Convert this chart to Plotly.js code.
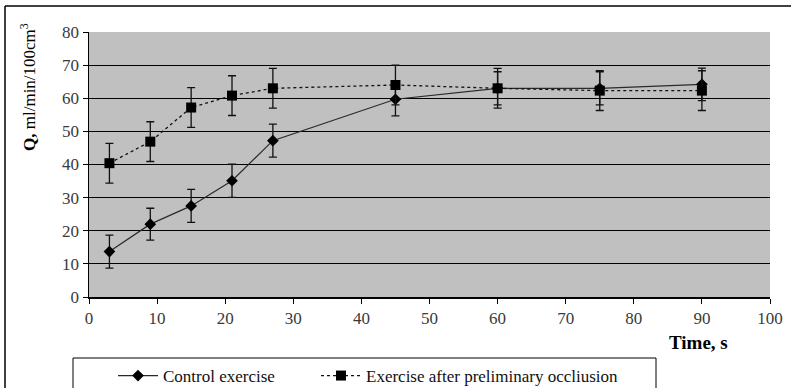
<!DOCTYPE html>
<html>
<head>
<meta charset="utf-8">
<script src="https://cdn.plot.ly/plotly-3.0.1.min.js"></script>
<style>html,body{margin:0;padding:0;background:#fff;}#chart{width:791px;height:388px;}</style>
</head>
<body>
<div id="chart"></div>
<script>
// Data
var timeS = [3, 9, 15, 21, 27, 45, 60, 75, 90];
var controlQ = [13.7, 22.0, 27.5, 35.1, 47.2, 59.7, 63.0, 63.0, 64.2];
var controlErr = [5.0, 4.8, 5.0, 5.0, 5.0, 5.0, 5.0, 5.0, 4.9];
var occlusionQ = [40.4, 46.9, 57.2, 60.8, 63.0, 64.0, 63.0, 62.3, 62.3];
var occlusionErr = [6.0, 6.0, 6.0, 6.0, 6.0, 6.0, 6.0, 6.0, 6.0];
var seriesNames = ["Control exercise", "Exercise after preliminary occliusion"];
var xTicks = [0, 10, 20, 30, 40, 50, 60, 70, 80, 90, 100];
var yTicks = [0, 10, 20, 30, 40, 50, 60, 70, 80];
var yGrid = [10, 20, 30, 40, 50, 60, 70];

var W = 791, H = 388;
var L = 89, R = 21, T = 32, B = 91;
var pw = W - L - R, ph = H - T - B;
function px(x) { return (x - L) / pw; }
function py(y) { return (H - B - y) / ph; }

var FONT = "Liberation Serif";

var traces = [
  {
    x: timeS, y: controlQ, name: seriesNames[0], type: "scatter", mode: "lines+markers", legend: "legend",
    line: {color: "#2a2a2a", width: 1.2},
    marker: {symbol: "diamond", size: 9, color: "#000"},
    error_y: {type: "data", array: controlErr, visible: true, color: "#111", thickness: 1.3, width: 4}
  },
  {
    x: timeS, y: occlusionQ, name: seriesNames[1], type: "scatter", mode: "lines+markers", legend: "legend2",
    line: {color: "#111", width: 1.3, dash: "dot"},
    marker: {symbol: "square", size: 10, color: "#000"},
    error_y: {type: "data", array: occlusionErr, visible: true, color: "#111", thickness: 1.3, width: 4}
  },
  {x: [null], y: [null], yaxis: "y2", showlegend: false, hoverinfo: "skip", type: "scatter", mode: "lines"}
];

function legendAt(xpx) {
  return {
    orientation: "h", xref: "container", yref: "container",
    x: xpx / W, y: 1 - 358 / H, xanchor: "left", yanchor: "top",
    bgcolor: "rgba(0,0,0,0)", borderwidth: 0,
    font: {family: FONT, size: 17, color: "#111"}, itemwidth: 40
  };
}

var layout = {
  width: W, height: H,
  margin: {l: L, r: R, t: T, b: B, pad: 0, autoexpand: false},
  paper_bgcolor: "#fff",
  plot_bgcolor: "#c0c0c0",
  font: {family: FONT, size: 17, color: "#333"},
  showlegend: true,
  xaxis: {
    range: [0, 100], tickvals: xTicks, ticktext: xTicks.map(String),
    showgrid: false, zeroline: false, showline: true, linecolor: "#000", linewidth: 1.5,
    ticks: "outside", ticklen: 5, tickcolor: "#000", tickwidth: 1,
    tickfont: {family: FONT, size: 17, color: "#3a3a3a"}
  },
  yaxis: {
    range: [0, 80], tickvals: yTicks, ticktext: yTicks.map(String),
    showgrid: false, zeroline: false, showline: true, linecolor: "#000", linewidth: 1.5,
    ticks: "outside", ticklen: 5, tickcolor: "#000", tickwidth: 1,
    tickfont: {family: FONT, size: 17, color: "#3a3a3a"}
  },
  yaxis2: {
    overlaying: "y", range: [0, 80], tickvals: yGrid, showticklabels: false,
    showgrid: true, gridcolor: "#000", gridwidth: 1.2, zeroline: false, showline: false, ticks: ""
  },
  legend: legendAt(113),
  legend2: legendAt(316),
  shapes: [
    {type: "line", xref: "paper", yref: "paper", x0: px(5), x1: px(795), y0: py(6), y1: py(6), line: {color: "#000", width: 1.5}},
    {type: "line", xref: "paper", yref: "paper", x0: px(5), x1: px(5), y0: py(6), y1: py(395), line: {color: "#000", width: 1.5}},
    {type: "rect", xref: "paper", yref: "paper", x0: px(73), x1: px(656), y0: py(358), y1: py(400), line: {color: "#000", width: 1}, fillcolor: "rgba(0,0,0,0)"}
  ],
  annotations: [
    {text: "<b>Time, s</b>", xref: "paper", yref: "paper", x: px(698), y: py(342), xanchor: "center", yanchor: "middle", showarrow: false, font: {family: FONT, size: 19, color: "#000"}},
    {text: "<b>Q,</b> ml/min/100cm<sup>3</sup>", xref: "paper", yref: "paper", x: px(28), y: py(87), xanchor: "center", yanchor: "middle", textangle: -90, showarrow: false, font: {family: FONT, size: 17, color: "#000"}}
  ]
};

Plotly.newPlot("chart", traces, layout, {staticPlot: true, displayModeBar: false});
</script>
</body>
</html>
